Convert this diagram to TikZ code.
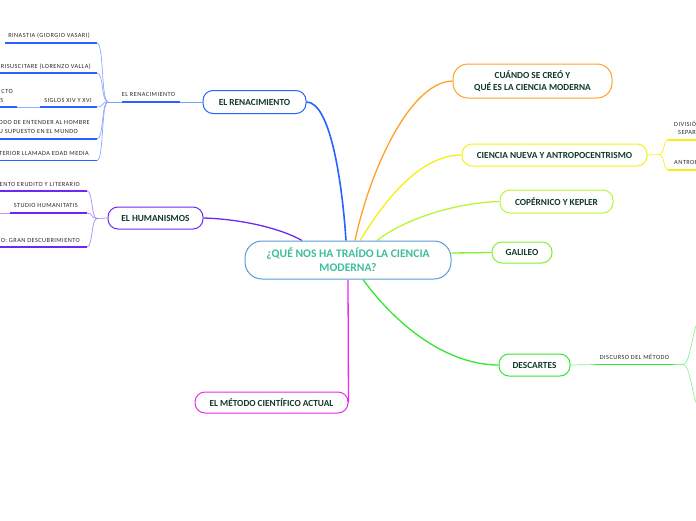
\documentclass[tikz,border=0pt]{standalone}
\usepackage{fontspec}
\setmainfont{Carlito}
\newfontfamily\leaffont[LetterSpace=7]{Carlito}
\usetikzlibrary{backgrounds,calc}
\definecolor{txt}{RGB}{16,58,44}
\definecolor{teal1}{RGB}{62,190,155}
\definecolor{cblue}{RGB}{90,155,215}
\definecolor{renc}{RGB}{41,98,255}
\definecolor{humc}{RGB}{110,40,245}
\definecolor{metc}{RGB}{238,40,238}
\definecolor{desc}{RGB}{50,230,50}
\definecolor{galc}{RGB}{130,240,40}
\definecolor{copc}{RGB}{185,245,50}
\definecolor{ciec}{RGB}{245,240,20}
\definecolor{cuac}{RGB}{255,160,40}
\definecolor{leaftxt}{RGB}{40,40,40}
\begin{document}
\begin{tikzpicture}[x=1pt,y=-1pt,
  topic/.style={draw, fill=white, rounded corners=10pt, line width=1pt, inner sep=0pt,
    font=\fontsize{9.3}{11.5}\selectfont\bfseries, text=txt, align=center},
  leaf/.style={font=\leaffont\fontsize{6.3}{8.5}\selectfont, text=leaftxt, inner sep=0pt},
  conn/.style={line width=1.3pt},
  twig/.style={line width=0.7pt},
  bar/.style={line width=1.8pt}]
\useasboundingbox (0,0) rectangle (696,520);
\clip (0,0) rectangle (696,520);

% ---------- topic nodes ----------
\node[topic, draw=cblue, text=teal1, font=\fontsize{11.6}{14}\selectfont\bfseries,
      minimum width=206pt, minimum height=38pt, rounded corners=17pt] (c) at (348,260)
      {¿QUÉ NOS HA TRAÍDO LA CIENCIA\\MODERNA?};
\node[topic, draw=renc, minimum width=103pt, minimum height=23pt] (ren) at (254.5,102) {EL RENACIMIENTO};
\node[topic, draw=humc, minimum width=95pt, minimum height=22pt] (hum) at (155.5,218) {EL HUMANISMOS};
\node[topic, draw=metc, minimum width=153pt, minimum height=21pt] (met) at (271.5,402.5) {EL MÉTODO CIENTÍFICO ACTUAL};
\node[topic, draw=desc, minimum width=71pt, minimum height=22pt] (des) at (534.5,365) {DESCARTES};
\node[topic, draw=galc, minimum width=60pt, minimum height=21pt] (gal) at (522,252.5) {GALILEO};
\node[topic, draw=copc, minimum width=113pt, minimum height=23pt] (cop) at (556.5,201.5) {COPÉRNICO Y KEPLER};
\node[topic, draw=ciec, minimum width=185pt, minimum height=22pt] (cie) at (554.5,155) {CIENCIA NUEVA Y ANTROPOCENTRISMO};
\node[topic, draw=cuac, minimum width=159pt, minimum height=34pt, rounded corners=15pt] (cua) at (532.5,81)
      {CUÁNDO SE CREÓ Y\\QUÉ ES LA CIENCIA MODERNA};

% ---------- leaf labels ----------
\node[leaf] (lren) at (148.5,94.5) {EL RENACIMIENTO};
\node[leaf, anchor=east] (r1t) at (90,35.5) {RINASTIA (GIORGIO VASARI)};
\node[leaf, anchor=east] (r2t) at (91,66.5) {RISUSCITARE (LORENZO VALLA)};
\node[leaf, anchor=east] (r3t) at (92,100) {SIGLOS XIV Y XVI};
\node[leaf, anchor=east] (r3a) at (13,91.5) {CTO};
\node[leaf, anchor=east] (r3b) at (3.5,100) {S};
\node[leaf, anchor=east] (r4a) at (90,122) {ODO DE ENTENDER AL HOMBRE};
\node[leaf, anchor=east] (r4b) at (78,131) {U SUPUESTO EN EL MUNDO};
\node[leaf, anchor=east] (r5t) at (89,153.5) {TERIOR LLAMADA EDAD MEDIA};
\node[leaf, anchor=east] (h1t) at (80,184) {IENTO ERUDITO Y LITERARIO};
\node[leaf, anchor=east] (h2t) at (78,205.5) {STUDIO HUMANITATIS};
\node[leaf, anchor=east] (h3t) at (80,240) {O: GRAN DESCUBRIMIENTO};
\node[leaf] (ldes) at (634.5,357) {DISCURSO DEL MÉTODO};
\node[leaf, anchor=west] (c1a) at (674,124) {DIVISIÓ};
\node[leaf, anchor=west] (c1b) at (678,132) {SEPAR};
\node[leaf, anchor=west] (c2t) at (674,162) {ANTROP};

% ---------- coordinates ----------
\coordinate (rb) at (108,102);
\coordinate (r1) at (97,43);
\coordinate (r2) at (97,73);
\coordinate (r3) at (97,107);
\coordinate (r4) at (97,139);
\coordinate (r5) at (97,160.5);
\coordinate (hb) at (97,218.5);
\coordinate (h1) at (87,191);
\coordinate (h2) at (87,213);
\coordinate (h3) at (87,247);
\coordinate (db) at (683,364.5);
\coordinate (d1) at (699,322);
\coordinate (d2) at (699,406);
\coordinate (cb) at (659,154.5);
\coordinate (k1) at (668,140);
\coordinate (k2) at (668,170);

\begin{scope}[on background layer]
% main connectors
\draw[conn, renc, line width=1.6pt] (ren.east) .. controls (330,102) and (342,180) .. ([xshift=-2pt]c.north);
\draw[conn, humc] (hum.east) .. controls (240,219) and (280,228) .. ([xshift=-46pt]c.north);
\draw[conn, cuac] ([xshift=7pt]c.north) .. controls (370,170) and (410,82) .. (cua.west);
\draw[conn, ciec] ([xshift=12pt]c.north) .. controls (385,200) and (420,155) .. (cie.west);
\draw[conn, copc] ([xshift=29pt]c.north) .. controls (400,222) and (450,203) .. (cop.west);
\draw[conn, galc] ([yshift=7pt]c.east) -- (gal.west);
\draw[conn, desc] ([xshift=15pt]c.south) .. controls (400,330) and (450,365) .. (des.west);
\draw[conn, metc] (c.south) -- (met.east);

% renacimiento sub-branch
\draw[twig, renc!60] (ren.west) -- (180,102);
\draw[bar, renc] (180,102) -- (122,102);
\draw[twig, renc!60] (122,102) -- (rb);
\foreach \p in {r1,r2,r3,r4,r5}
  \draw[twig, renc!55] (rb) .. controls +(-7,0) and +(7,0) .. (\p);
\draw[bar, renc] (r1) -- (5,43);
\draw[bar, renc] (r2) -- (-5,73);
\draw[bar, renc] (r3) -- (40,107);
\draw[twig, renc!50] (40,107) -- (17,107);
\draw[bar, renc] (17,107) -- (-5,107);
\draw[bar, renc] (r4) -- (-5,139);
\draw[bar, renc] (r5) -- (-5,160.5);

% humanismo sub-branch
\draw[twig, humc!60] (hum.west) -- (hb);
\foreach \p in {h1,h2,h3}
  \draw[twig, humc!55] (hb) .. controls +(-6,0) and +(6,0) .. (\p);
\draw[bar, humc] (h1) -- (-5,191);
\draw[bar, humc] (h2) -- (10,213);
\draw[twig, humc!50] (10,213) -- (-5,213);
\draw[bar, humc] (h3) -- (-5,247);

% descartes sub-branch
\draw[twig, desc!60] (des.east) -- (595,364.5);
\draw[bar, desc] (595,364.5) -- (674,364.5);
\draw[twig, desc!60] (674,364.5) -- (db);
\draw[twig, desc!55] (db) .. controls +(8,0) and +(-6,0) .. (d1);
\draw[twig, desc!55] (db) .. controls +(8,0) and +(-6,0) .. (d2);

% ciencia nueva sub-branch
\draw[twig, ciec] (cie.east) -- (cb);
\draw[twig, ciec] (cb) .. controls +(6,0) and +(-5,0) .. (k1);
\draw[twig, ciec] (cb) .. controls +(6,0) and +(-5,0) .. (k2);
\draw[bar, ciec] (k1) -- (705,140);
\draw[bar, ciec] (k2) -- (705,170);
\end{scope}
\end{tikzpicture}
\end{document}
